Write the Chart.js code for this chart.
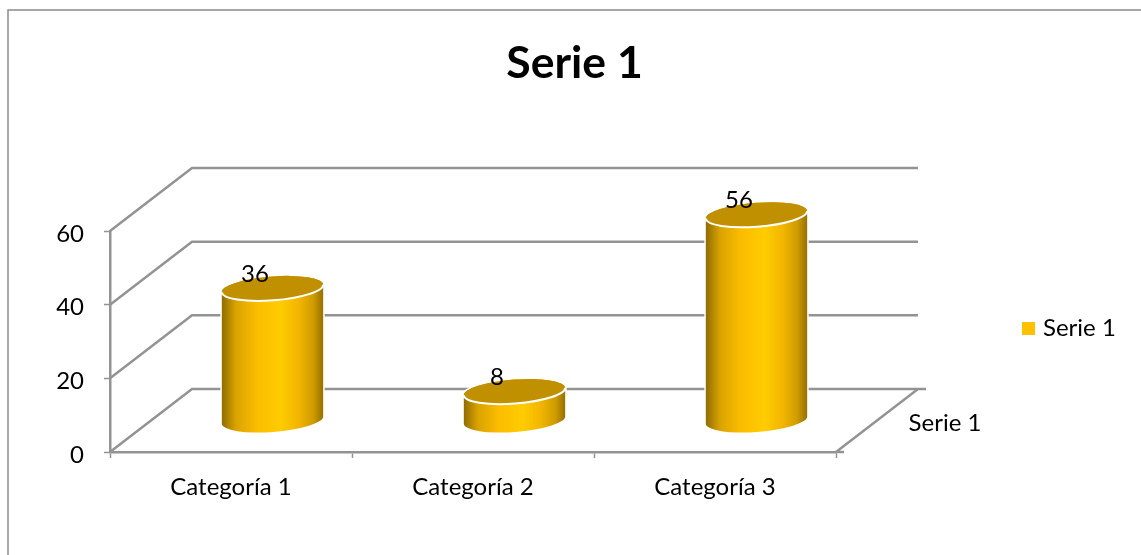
<!DOCTYPE html>
<html>
<head>
<meta charset="utf-8">
<style>
  html, body { margin: 0; padding: 0; background: #fff; }
  canvas { display: block; }
</style>
<script src="https://cdn.jsdelivr.net/npm/chart.js@4"></script>
</head>
<body>
<canvas id="chart" width="1141" height="555"></canvas>
<script>
const categories = ['Categoría 1', 'Categoría 2', 'Categoría 3'];
const serie1 = [36, 8, 56];
const seriesName = 'Serie 1';

const font = 'Lato';
const gray = '#939393';
// 3d depth of the box, in px
const depthX = 82;
const depthY = -63;

function cylinder(ctx, cx, topY, baseY, rx) {
    const ry = 12;
    const tilt = -0.075;
    const dx = rx * Math.cos(tilt);
    const dy = rx * Math.sin(tilt);

    const grad = ctx.createLinearGradient(cx - rx, 0, cx + rx, 0);
    grad.addColorStop(0, '#8f6c00');
    grad.addColorStop(0.14, '#d9a300');
    grad.addColorStop(0.34, '#fbbc00');
    grad.addColorStop(0.58, '#ffcc00');
    grad.addColorStop(0.76, '#f2b500');
    grad.addColorStop(0.9, '#cf9c00');
    grad.addColorStop(1, '#957000');

    ctx.beginPath();
    ctx.moveTo(cx - dx, topY - dy);
    ctx.lineTo(cx - dx, baseY - dy);
    ctx.ellipse(cx, baseY, rx, ry, tilt, Math.PI, 0, true);
    ctx.lineTo(cx + dx, topY + dy);
    ctx.ellipse(cx, topY, rx, ry, tilt, 0, Math.PI, true);
    ctx.closePath();
    ctx.strokeStyle = '#fff';
    ctx.lineWidth = 3;
    ctx.stroke();
    ctx.fillStyle = grad;
    ctx.fill();

    ctx.beginPath();
    ctx.ellipse(cx, topY, rx, ry, tilt, 0, Math.PI * 2);
    ctx.fillStyle = '#c09000';
    ctx.fill();

    ctx.beginPath();
    ctx.ellipse(cx, topY, rx, ry, tilt, 0, Math.PI);
    ctx.strokeStyle = '#fff';
    ctx.lineWidth = 2;
    ctx.stroke();
}

const box3d = {
    id: 'box3d',
    afterInit(chart) {
        // legend takes the whole strip right of the plot
        const legend = chart.legend;
        const fit = legend.fit;
        legend.fit = function () {
            fit.call(this);
            this.width = 305;
        };
    },
    afterLayout(chart) {
        const legend = chart.legend;
        legend.left = 1022;
        legend.top += 51;
        legend.bottom += 51;
    },
    beforeDraw(chart) {
        const ctx = chart.ctx;
        ctx.save();
        ctx.strokeStyle = '#8c8c8c';
        ctx.lineWidth = 1.5;
        ctx.beginPath();
        ctx.moveTo(8, 555);
        ctx.lineTo(8, 10);
        ctx.lineTo(1141, 10);
        ctx.stroke();
        ctx.restore();
    },
    beforeDatasetsDraw(chart) {
        const ctx = chart.ctx;
        const { left, right } = chart.chartArea;
        const y = chart.scales.y;
        ctx.save();
        ctx.strokeStyle = gray;
        ctx.lineWidth = 2.5;
        y.ticks.forEach(t => {
            const py = y.getPixelForValue(t.value);
            ctx.beginPath();
            ctx.moveTo(left, py);
            ctx.lineTo(left + depthX, py + depthY);
            ctx.lineTo(right + depthX + (t.value === 0 ? 8 : 0), py + depthY);
            ctx.stroke();
        });
        const py0 = y.getPixelForValue(0);
        ctx.beginPath();
        ctx.moveTo(right, py0);
        ctx.lineTo(right + depthX, py0 + depthY);
        ctx.moveTo(right, py0);
        ctx.lineTo(right + 8, py0);
        ctx.stroke();
        ctx.fillStyle = '#000';
        ctx.font = '24px ' + font;
        ctx.textAlign = 'center';
        ctx.textBaseline = 'middle';
        ctx.fillText(seriesName, 945, 423);
        ctx.restore();
    },
    // flat bars are replaced by the cylinders
    beforeDatasetDraw() {
        return false;
    },
    afterDatasetsDraw(chart) {
        const ctx = chart.ctx;
        const bars = chart.getDatasetMeta(0).data;
        ctx.save();
        bars.forEach(bar => {
            cylinder(ctx, bar.x + depthX / 2 + 0.5, bar.y + depthY / 2 + 0.5, bar.base + depthY / 2, bar.width / 2);
        });
        ctx.fillStyle = '#000';
        ctx.font = '24px ' + font;
        ctx.textAlign = 'center';
        ctx.textBaseline = 'middle';
        bars.forEach((bar, i) => {
            ctx.fillText(serie1[i], bar.x + 24, bar.y + depthY / 2 - 14);
        });
        ctx.restore();
    }
};

new Chart(document.getElementById('chart').getContext('2d'), {
    type: 'bar',
    data: {
        labels: categories,
        datasets: [{
            label: seriesName,
            data: serie1,
            backgroundColor: '#ffc000',
            // wide border on a small box: keeps the legend text close to its swatch
            borderColor: '#ffc000',
            borderWidth: 8,
            categoryPercentage: 1,
            barPercentage: 0.42
        }]
    },
    plugins: [box3d],
    options: {
        responsive: false,
        animation: false,
        layout: { padding: { left: 8 } },
        plugins: {
            title: {
                display: true,
                text: seriesName,
                color: '#000',
                font: { family: font, size: 44.5, weight: 'bold' },
                padding: { top: 37, bottom: 140.6 }
            },
            legend: {
                position: 'right',
                labels: {
                    boxWidth: 5,
                    boxHeight: 5,
                    padding: 4,
                    color: '#000',
                    font: { family: font, size: 24 }
                }
            },
            tooltip: { enabled: false }
        },
        scales: {
            x: {
                afterFit(scale) { scale.height = 103; },
                grid: { offset: true, drawOnChartArea: false, tickLength: 6, color: gray, tickWidth: 1.5 },
                border: { color: gray, width: 2.5 },
                ticks: { color: '#000', padding: 15, font: { family: font, size: 24 } }
            },
            y: {
                min: 0,
                max: 60,
                afterFit(scale) { scale.width = 102; },
                grid: { drawOnChartArea: false, tickLength: 6, color: gray, tickWidth: 1.5 },
                border: { color: gray, width: 2.5 },
                ticks: { stepSize: 20, color: '#000', padding: 20, labelOffset: 3, font: { family: font, size: 24 } }
            }
        }
    }
});
</script>
</body>
</html>
